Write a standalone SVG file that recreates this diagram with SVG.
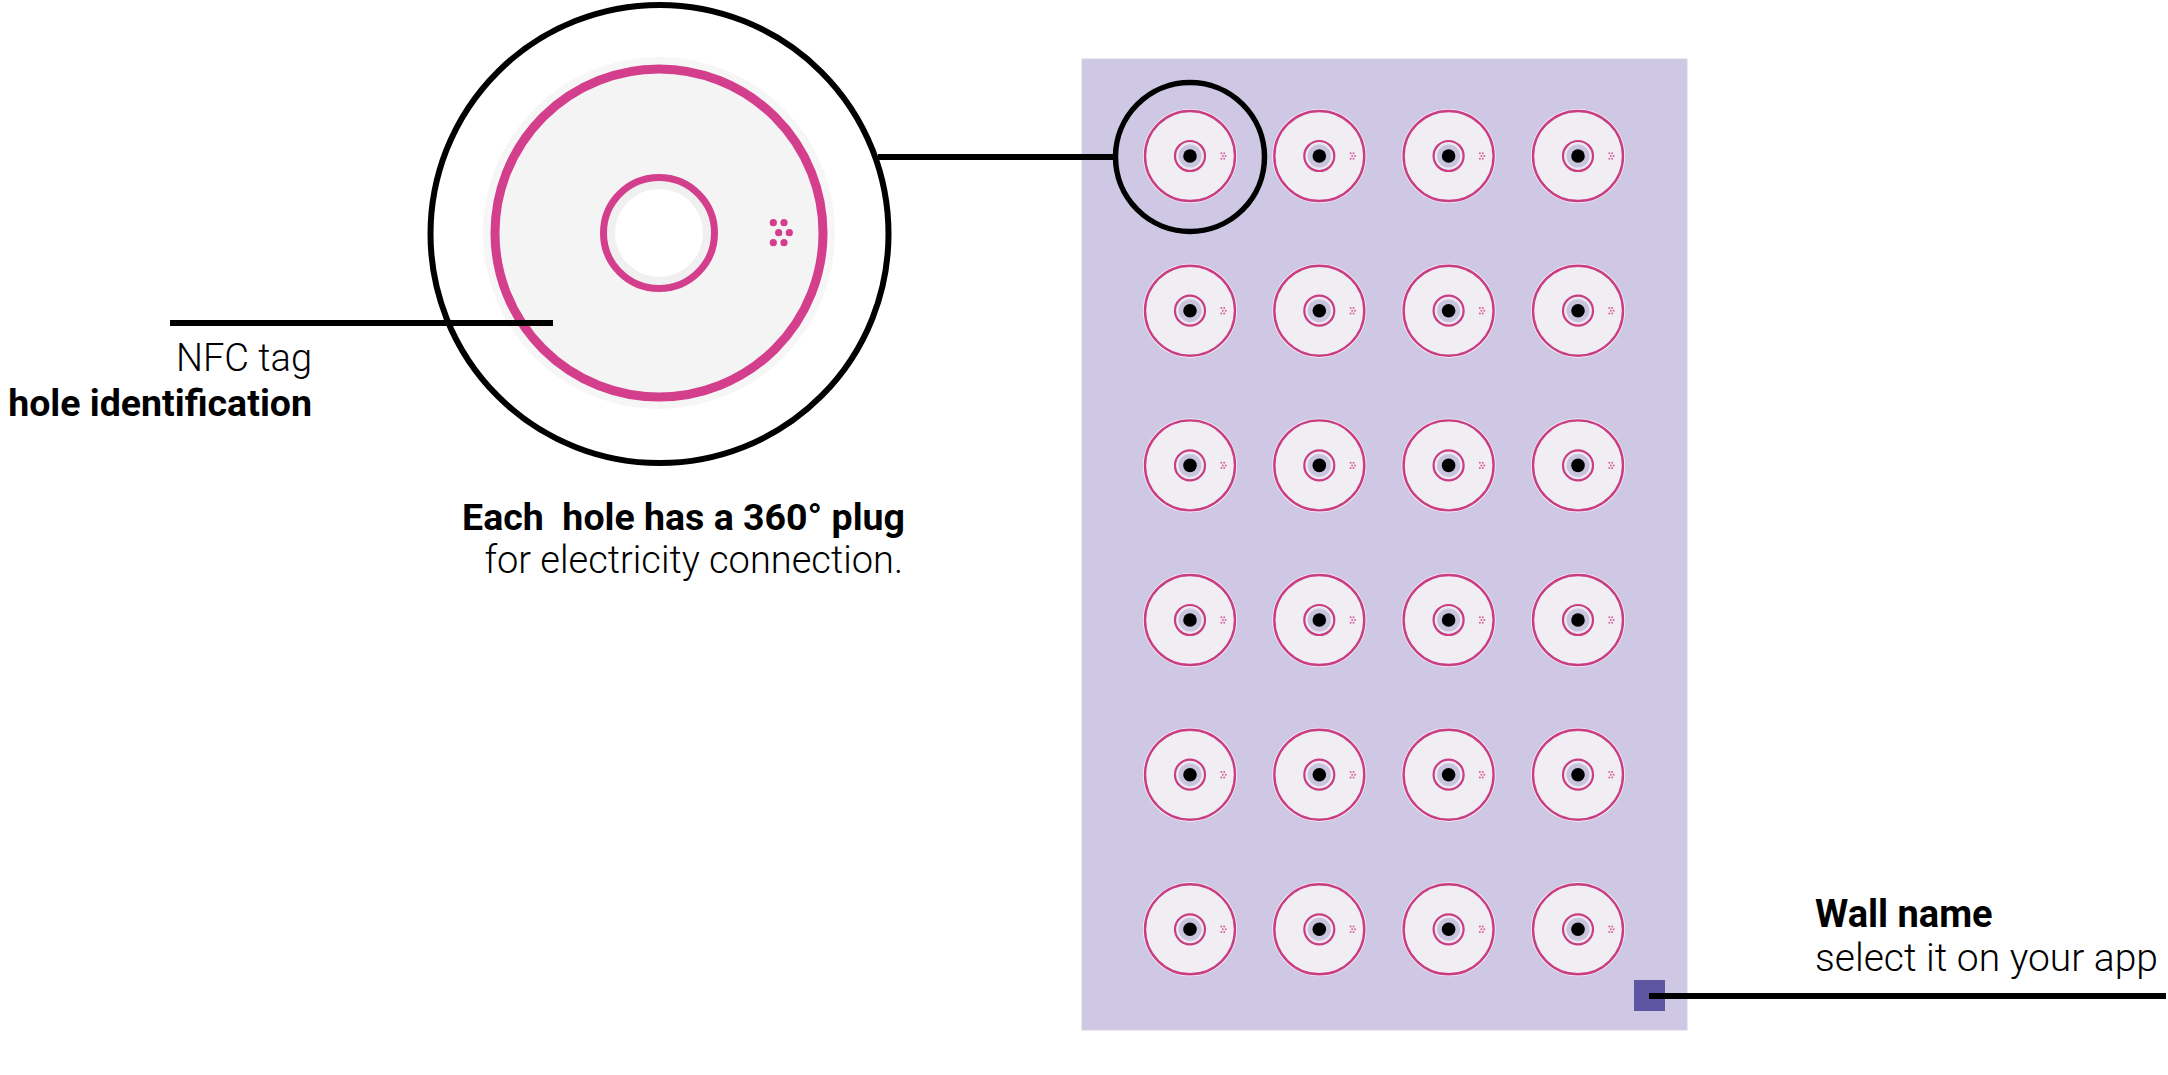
<svg xmlns="http://www.w3.org/2000/svg" xmlns:xlink="http://www.w3.org/1999/xlink" width="2168" height="1075" viewBox="0 0 2168 1075">
  <style>
    .lbl { font-family: Roboto, "Liberation Sans", sans-serif; font-size: 38px; fill: #000; white-space: pre; }
    .b { font-weight: 700; font-size: 37.5px; }
    .l { font-weight: 300; }
    .conn { stroke: #000; stroke-width: 6; fill: none; }
    .pink { fill: #d43f8d; }
  </style>
  <defs>
    <g id="hole">
      <circle r="47" fill="#f9f4f9"/>
      <circle r="45" fill="#f1eef3" stroke="#c93d83" stroke-width="2.4"/>
      <circle r="15" fill="#ece9f2" stroke="#c93d83" stroke-width="2.2"/>
      <circle r="11.5" fill="#c9c4dd"/>
      <circle r="6.8" fill="#000"/>
      <g fill="#d8609e">
        <circle cx="31.3" cy="-2.7" r="1"/>
        <circle cx="34.2" cy="-2.7" r="1"/>
        <circle cx="32.8" cy="0" r="1"/>
        <circle cx="35.7" cy="0" r="1"/>
        <circle cx="31.3" cy="2.7" r="1"/>
        <circle cx="34.2" cy="2.7" r="1"/>
      </g>
    </g>
  </defs>

  <rect width="2168" height="1075" fill="#ffffff"/>

  <!-- Wall panel -->
  <g id="wall">
    <rect x="1082" y="59" width="605" height="971" fill="#cfc8e4" stroke="#d6d0e8" stroke-width="1"/>
    <rect id="wall-name-tag" x="1634" y="980" width="31" height="31" fill="#5e56a2"/>
  </g>

  <!-- Holes grid -->
  <g id="holes">
    <g id="hole-r1c1"><use xlink:href="#hole" x="1190" y="156"/></g>
    <g id="hole-r1c2"><use xlink:href="#hole" x="1319.3" y="156"/></g>
    <g id="hole-r1c3"><use xlink:href="#hole" x="1448.6" y="156"/></g>
    <g id="hole-r1c4"><use xlink:href="#hole" x="1578" y="156"/></g>
    <g id="hole-r2c1"><use xlink:href="#hole" x="1190" y="310.7"/></g>
    <g id="hole-r2c2"><use xlink:href="#hole" x="1319.3" y="310.7"/></g>
    <g id="hole-r2c3"><use xlink:href="#hole" x="1448.6" y="310.7"/></g>
    <g id="hole-r2c4"><use xlink:href="#hole" x="1578" y="310.7"/></g>
    <g id="hole-r3c1"><use xlink:href="#hole" x="1190" y="465.4"/></g>
    <g id="hole-r3c2"><use xlink:href="#hole" x="1319.3" y="465.4"/></g>
    <g id="hole-r3c3"><use xlink:href="#hole" x="1448.6" y="465.4"/></g>
    <g id="hole-r3c4"><use xlink:href="#hole" x="1578" y="465.4"/></g>
    <g id="hole-r4c1"><use xlink:href="#hole" x="1190" y="620"/></g>
    <g id="hole-r4c2"><use xlink:href="#hole" x="1319.3" y="620"/></g>
    <g id="hole-r4c3"><use xlink:href="#hole" x="1448.6" y="620"/></g>
    <g id="hole-r4c4"><use xlink:href="#hole" x="1578" y="620"/></g>
    <g id="hole-r5c1"><use xlink:href="#hole" x="1190" y="774.7"/></g>
    <g id="hole-r5c2"><use xlink:href="#hole" x="1319.3" y="774.7"/></g>
    <g id="hole-r5c3"><use xlink:href="#hole" x="1448.6" y="774.7"/></g>
    <g id="hole-r5c4"><use xlink:href="#hole" x="1578" y="774.7"/></g>
    <g id="hole-r6c1"><use xlink:href="#hole" x="1190" y="929.3"/></g>
    <g id="hole-r6c2"><use xlink:href="#hole" x="1319.3" y="929.3"/></g>
    <g id="hole-r6c3"><use xlink:href="#hole" x="1448.6" y="929.3"/></g>
    <g id="hole-r6c4"><use xlink:href="#hole" x="1578" y="929.3"/></g>
  </g>

  <!-- Highlight ring on first hole -->
  <g id="highlight">
    <circle cx="1190" cy="157" r="74.5" fill="none" stroke="#000" stroke-width="5.5"/>
  </g>

  <!-- Magnified hole -->
  <g id="magnified-hole">
    <circle cx="659.5" cy="234" r="229" fill="#ffffff" stroke="#000" stroke-width="6"/>
    <circle cx="659" cy="233" r="176" fill="#f6f6f6"/>
    <circle cx="659" cy="233" r="164" fill="#f4f4f5" stroke="#d43f8d" stroke-width="9"/>
    <circle cx="659" cy="233" r="55.5" fill="#f0f0f0" stroke="#d43f8d" stroke-width="7"/>
    <circle cx="659" cy="233" r="44" fill="#ffffff"/>
    <g class="pink">
      <circle cx="773.3" cy="222.7" r="3.6"/>
      <circle cx="784" cy="222.7" r="3.6"/>
      <circle cx="778.7" cy="232.7" r="3.6"/>
      <circle cx="789.3" cy="232.7" r="3.6"/>
      <circle cx="773.3" cy="242.7" r="3.6"/>
      <circle cx="784" cy="242.7" r="3.6"/>
    </g>
  </g>

  <!-- Connectors -->
  <g id="connectors">
    <line class="conn" x1="170" y1="323" x2="553" y2="323"/>
    <line class="conn" x1="878" y1="157" x2="1116" y2="157" stroke-width="5.5"/>
    <line class="conn" x1="1649" y1="996" x2="2166" y2="996"/>
  </g>

  <!-- Labels -->
  <g id="label-nfc">
    <text class="lbl l" x="312" y="371" text-anchor="end">NFC tag</text>
    <text class="lbl b" x="312" y="416" text-anchor="end">hole identification</text>
  </g>
  <g id="label-plug">
    <text class="lbl b" x="905" y="530" text-anchor="end">Each  hole has a 360° plug</text>
    <text class="lbl l" x="903" y="573" text-anchor="end">for electricity connection.</text>
  </g>
  <g id="label-wall">
    <text class="lbl b" x="1815" y="927" style="font-size:38px">Wall name</text>
    <text class="lbl l" x="1815" y="971" style="font-size:39px">select it on your app</text>
  </g>
</svg>
